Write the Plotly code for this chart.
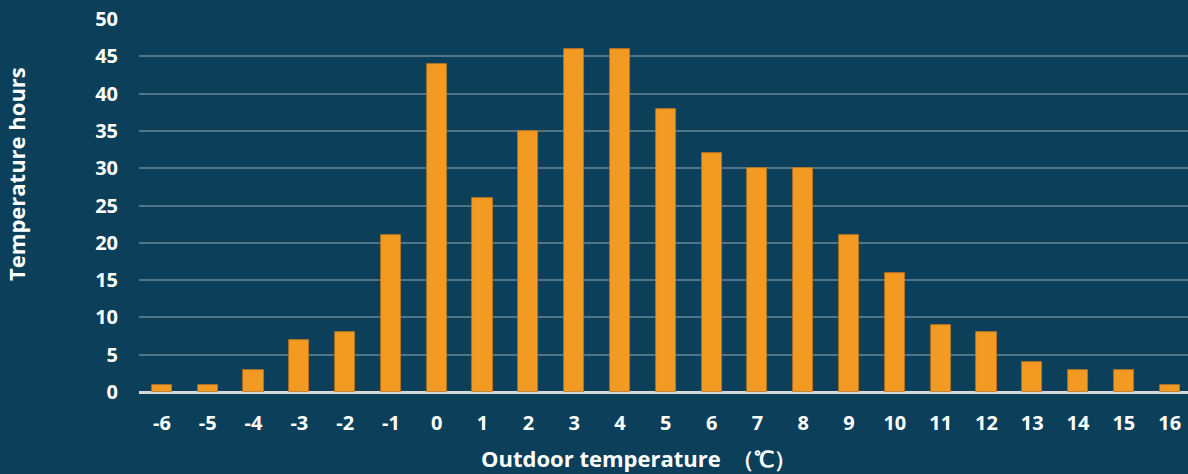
import plotly.graph_objects as go

temps = ["-6", "-5", "-4", "-3", "-2", "-1", "0", "1", "2", "3", "4", "5",
         "6", "7", "8", "9", "10", "11", "12", "13", "14", "15", "16"]
hours = [1, 1, 3, 7, 8, 21, 44, 26, 35, 46, 46, 38, 32, 30, 30, 21, 16, 9, 8, 4, 3, 3, 1]
y_ticks = [0, 5, 10, 15, 20, 25, 30, 35, 40, 45, 50]
x_title = "Outdoor temperature\u00a0\u00a0（℃）"
y_title = "Temperature hours"

BG = "#0B3F5A"
FONT = "Open Sans"

fig = go.Figure(go.Bar(
    x=list(range(len(temps))), y=hours, width=0.44,
    marker=dict(color="#F39A22", line=dict(color="#B87420", width=0.8)),
))

fig.update_layout(
    width=1188, height=474,
    paper_bgcolor=BG, plot_bgcolor=BG,
    margin=dict(l=139, r=0, t=19, b=82),
    font=dict(family=FONT, color="white", size=20),
    showlegend=False,
    bargap=0,
    annotations=[
        dict(text=f"<b>{x_title}</b>", xref="paper", yref="paper",
             x=0.4766, y=-0.177, xanchor="center", yanchor="middle",
             showarrow=False, font=dict(size=22, family=FONT, color="white")),
        dict(text=f"<b>{y_title}</b>", xref="paper", yref="paper",
             x=-0.1173, y=0.5845, xanchor="center", yanchor="middle", textangle=-90,
             showarrow=False, font=dict(size=22, family=FONT, color="white")),
    ],
)
fig.update_xaxes(
    tickmode="array", tickvals=list(range(len(temps))),
    ticktext=[f"<b>{t}</b>" for t in temps],
    range=[-0.5, 22.4], showgrid=False, ticks="", ticklabelstandoff=17,
    showline=False, zeroline=False,
)
fig.update_yaxes(
    range=[0, 50], tickmode="array", tickvals=y_ticks,
    ticktext=[f"<b>{v}</b>" for v in y_ticks],
    showgrid=True, gridcolor="#4F7588", gridwidth=1.5,
    zeroline=True, zerolinecolor="#D9D9D9", zerolinewidth=2.5,
    ticks="", ticklabelstandoff=20,
)

fig.write_html(
    "out.html",
    config={"displayModeBar": False},
    post_script="document.body.style.margin='0';document.body.style.background='%s';" % BG,
)
